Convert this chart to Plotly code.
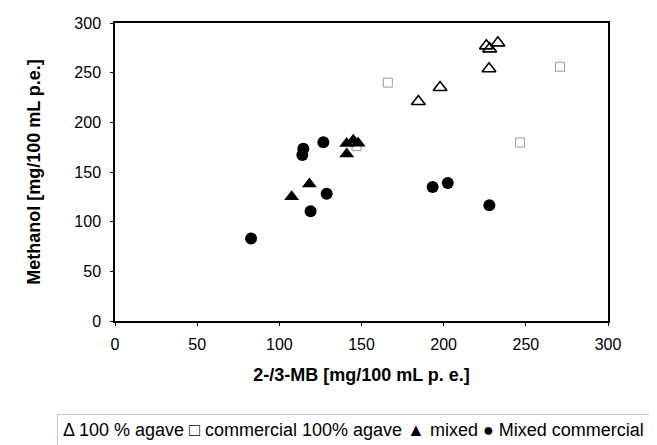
import plotly.graph_objects as go

# 100 % agave (open triangles)
agave_x = [226, 228, 233, 227.6, 197.8, 184.6]
agave_y = [277, 274, 280, 254, 235, 221]
# commercial 100% agave (open squares)
comm_x = [166, 270.8, 246.5, 147]
comm_y = [240, 256, 179.6, 176]
# mixed (filled triangles)
mixed_x = [107.5, 118.3, 141, 141, 145, 148]
mixed_y = [125, 138, 168, 178.6, 182, 179]
# Mixed commercial (filled circles)
mixc_x = [82.8, 114.6, 114, 126.8, 119, 128.8, 193.3, 202.5, 227.8]
mixc_y = [83, 173.5, 167, 180, 110.5, 128, 135, 139, 116.6]

tick_vals_x = [0, 50, 100, 150, 200, 250, 300]
tick_vals_y = [0, 50, 100, 150, 200, 250, 300]

legend_names = ["100 % agave", "commercial 100% agave", "mixed", "Mixed commercial"]
legend_syms = ["Δ", "□", "▲", "●"]

fig = go.Figure()
fig.add_trace(go.Scatter(x=agave_x, y=agave_y, mode="markers", name=legend_names[0],
                         marker=dict(symbol="triangle-up-open", size=12, color="black",
                                     line=dict(width=1.6, color="black"))))
fig.add_trace(go.Scatter(x=comm_x, y=comm_y, mode="markers", name=legend_names[1],
                         marker=dict(symbol="square-open", size=9, color="#9a9a9a",
                                     line=dict(width=1, color="#9a9a9a"))))
fig.add_trace(go.Scatter(x=mixed_x, y=mixed_y, mode="markers", name=legend_names[2],
                         marker=dict(symbol="triangle-up", size=13, color="black")))
fig.add_trace(go.Scatter(x=mixc_x, y=mixc_y, mode="markers", name=legend_names[3],
                         marker=dict(symbol="circle", size=12, color="black")))

axis_common = dict(showgrid=False, zeroline=False, showline=True, linecolor="black",
                   linewidth=1.5, mirror=True, ticks="outside", ticklen=3,
                   tickcolor="black", tickfont=dict(family="Arial", size=16, color="black"))
fig.update_xaxes(range=[0, 300], tickvals=tick_vals_x, ticklabelstandoff=5,
                 title=dict(text="<b>2-/3-MB [mg/100 mL p. e.]</b>",
                            font=dict(family="Arial", size=18, color="black"), standoff=16),
                 **axis_common)
fig.update_yaxes(range=[0, 300], tickvals=tick_vals_y, ticklabelstandoff=6,
                 title=dict(text="<b>Methanol [mg/100 mL p.e.]</b>",
                            font=dict(family="Arial", size=18, color="black"), standoff=29),
                 **axis_common)

legend_text = " ".join(f"{s} {n}" for s, n in zip(legend_syms, legend_names))
fig.add_annotation(text=legend_text, xref="paper", yref="paper",
                   x=0.4838, y=-0.3658, xanchor="center", yanchor="middle",
                   showarrow=False, font=dict(family="Arial", size=18, color="black"),
                   bordercolor="#c8c8c8", borderwidth=1, borderpad=5)

fig.update_layout(
    width=649, height=437,
    margin=dict(l=107, r=49, t=15, b=124, autoexpand=False),
    paper_bgcolor="white", plot_bgcolor="white",
    showlegend=False,
)
fig.write_html("out.html")
